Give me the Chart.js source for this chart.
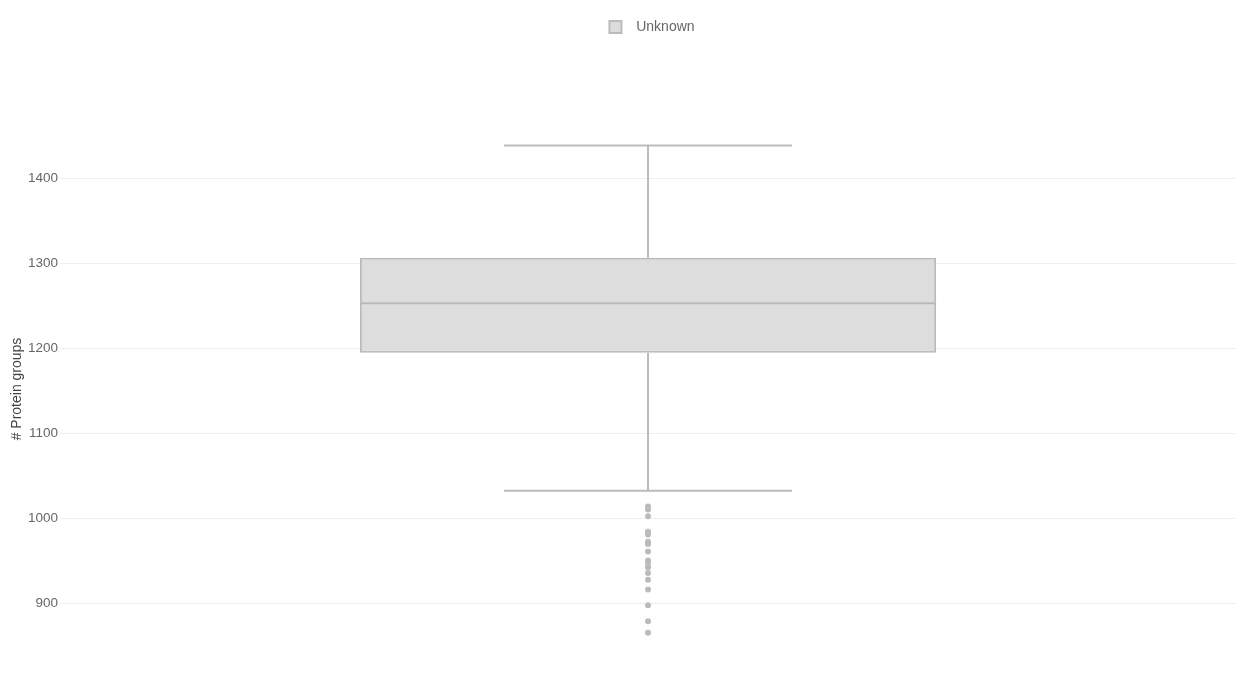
<!DOCTYPE html>
<html>
<head>
  <title>Protein groups</title>
  <script src="https://cdn.jsdelivr.net/npm/chart.js"></script>
  <style>
    html, body { margin: 0; padding: 0; background: #fff; }
    #wrap { width: 1246px; height: 700px; }
  </style>
</head>
<body>
  <div id="wrap">
    <canvas id="boxChart"></canvas>
  </div>

  <script>
    // datos
    const categorias = ['Unknown'];
    const q1 = [1195];
    const mediana = [1253];
    const q3 = [1306.5];
    const bigoteBajo = [1032.5];
    const bigoteAlto = [1438.5];
    const atipicos = [1014, 1010.5, 1002.5, 984.5, 981, 972.5, 970, 961, 950.5,
                      947.5, 942.5, 936, 928, 916.5, 898, 879, 865.5];
    const marcasY = [900, 1000, 1100, 1200, 1300, 1400];
    const tituloY = '# Protein groups';

    const gris = '#bbbbbb';

    // dibuja mediana, bigotes y titulo del eje usando las escalas de Chart.js
    const bigotes = {
      id: 'bigotes',
      afterLayout(chart) {
        // leyenda centrada sobre el area del grafico
        chart.legend.left = chart.chartArea.left + 4;
        chart.legend.right = chart.chartArea.right + 4;
      },
      beforeDatasetsDraw(chart) {
        const meta = chart.getDatasetMeta(0);
        const y = chart.scales.y;
        const ctx = chart.ctx;
        ctx.save();
        ctx.strokeStyle = gris;
        ctx.lineWidth = 2;
        meta.data.forEach((bar, i) => {
          const cap = bar.width / 4;
          ctx.beginPath();
          ctx.moveTo(bar.x, y.getPixelForValue(bigoteAlto[i]));
          ctx.lineTo(bar.x, y.getPixelForValue(q3[i]));
          ctx.moveTo(bar.x, y.getPixelForValue(q1[i]));
          ctx.lineTo(bar.x, y.getPixelForValue(bigoteBajo[i]));
          ctx.moveTo(bar.x - cap, y.getPixelForValue(bigoteAlto[i]));
          ctx.lineTo(bar.x + cap, y.getPixelForValue(bigoteAlto[i]));
          ctx.moveTo(bar.x - cap, y.getPixelForValue(bigoteBajo[i]));
          ctx.lineTo(bar.x + cap, y.getPixelForValue(bigoteBajo[i]));
          ctx.stroke();
        });
        ctx.restore();
      },
      afterDatasetsDraw(chart) {
        const meta = chart.getDatasetMeta(0);
        const y = chart.scales.y;
        const ctx = chart.ctx;
        ctx.save();
        ctx.strokeStyle = gris;
        ctx.lineWidth = 2;
        meta.data.forEach((bar, i) => {
          const half = bar.width / 2;
          const py = y.getPixelForValue(mediana[i]);
          ctx.beginPath();
          ctx.moveTo(bar.x - half, py);
          ctx.lineTo(bar.x + half, py);
          ctx.stroke();
        });
        // titulo del eje y, algo por debajo del centro como en el original
        const area = chart.chartArea;
        ctx.translate(17, (area.top + area.bottom) / 2 + 44);
        ctx.rotate(-Math.PI / 2);
        ctx.fillStyle = '#444';
        ctx.font = '14px "Liberation Sans", Arial, sans-serif';
        ctx.textAlign = 'center';
        ctx.textBaseline = 'middle';
        ctx.fillText(tituloY, 0, 0);
        ctx.restore();
      }
    };

    Chart.defaults.font.family = '"Liberation Sans", Arial, sans-serif';
    Chart.defaults.font.size = 14;
    Chart.defaults.color = '#666';

    const ctx = document.getElementById('boxChart').getContext('2d');
    new Chart(ctx, {
      type: 'bar',
      data: {
        labels: categorias,
        datasets: [
          {
            label: 'Unknown',
            data: categorias.map((c, i) => [q1[i], q3[i]]),
            backgroundColor: '#dddddd',
            borderColor: gris,
            borderWidth: 2,
            borderSkipped: false,
            categoryPercentage: 1,
            barPercentage: 0.49,
          },
          {
            type: 'line',
            label: 'outliers',
            data: atipicos.map((v) => ({ x: categorias[0], y: v })),
            showLine: false,
            pointRadius: 3,
            pointBackgroundColor: gris,
            pointBorderWidth: 0,
            borderColor: gris,
          },
        ],
      },
      options: {
        responsive: true,
        maintainAspectRatio: false,
        animation: false,
        layout: { padding: { top: 8, right: 10, bottom: 54, left: 26 } },
        plugins: {
          legend: {
            labels: {
              boxWidth: 12,
              boxHeight: 12,
              padding: 12,
              font: { size: 14 },
              generateLabels: (chart) =>
                Chart.defaults.plugins.legend.labels.generateLabels(chart)
                  .filter((item) => item.datasetIndex === 0)
                  .map((item) => Object.assign(item, { text: '  ' + item.text })),
            },
          },
          tooltip: { enabled: false },
        },
        scales: {
          x: { display: false },
          y: {
            min: 850,
            max: 1558,
            afterBuildTicks: (axis) => {
              axis.ticks = marcasY.map((v) => ({ value: v }));
            },
            border: { display: false },
            grid: { drawTicks: false, color: '#eeeeee' },
            ticks: { padding: 2, font: { size: 13.5 }, callback: (v) => String(v) },
          },
        },
      },
      plugins: [bigotes],
    });
  </script>
</body>
</html>
